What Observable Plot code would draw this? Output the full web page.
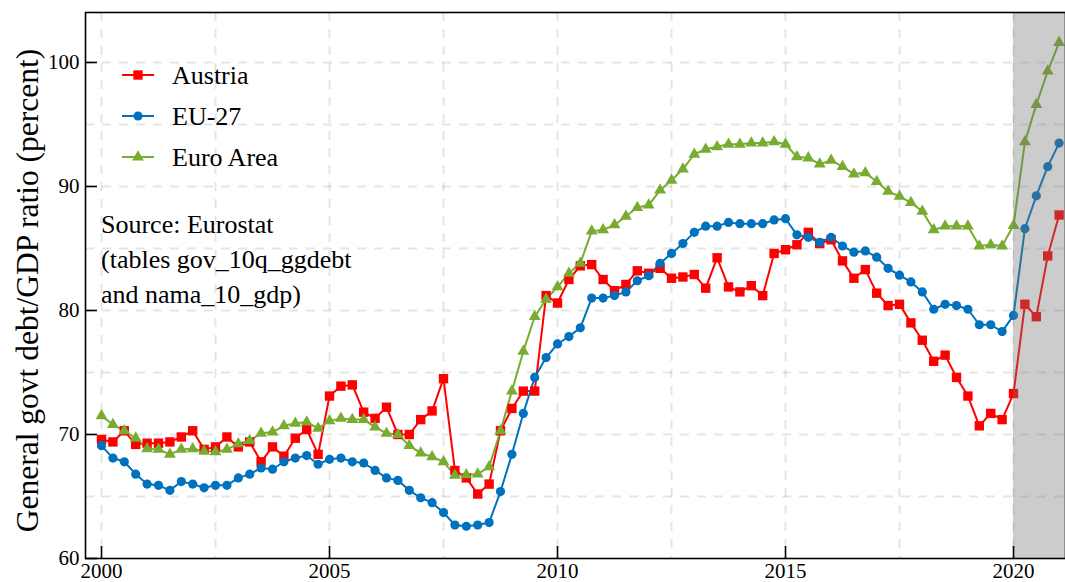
<!DOCTYPE html>
<html>
<head>
<meta charset="utf-8">
<script src="https://cdn.jsdelivr.net/npm/d3@7"></script>
<script src="https://cdn.jsdelivr.net/npm/@observablehq/plot@0.6"></script>
<style>
  html, body { margin: 0; padding: 0; background: #fff; }
  #chart svg { display: block; }
  #chart svg text { font-family: 'Liberation Serif', 'Times New Roman', serif; }
</style>
</head>
<body>
<div id="chart"></div>
<script>
// ---------- data (quarterly, 2000Q1 .. 2021Q1) ----------
const startYear = 2000;
const seriesNames = ["Austria", "EU-27", "Euro Area"];
const seriesColors = ["#ff0000", "#0072bd", "#77ac30"];

const austria = [
  69.6, 69.4, 70.3, 69.2,
  69.3, 69.3, 69.4, 69.8,
  70.3, 68.8, 69.0, 69.8,
  69.0, 69.4, 67.8, 69.0,
  68.25, 69.7, 70.4, 68.4,
  73.1, 73.9, 74.0, 71.8,
  71.3, 72.2, 70.0, 70.0,
  71.2, 71.9, 74.5, 67.1,
  66.5, 65.2, 66.0, 70.3,
  72.1, 73.5, 73.5, 81.2,
  80.6, 82.5, 83.6, 83.7,
  82.5, 81.6, 82.1, 83.2,
  83.0, 83.4, 82.6, 82.7,
  82.9, 81.8, 84.25, 81.9,
  81.5, 82.0, 81.2, 84.6,
  84.9, 85.3, 86.3, 85.4,
  85.7, 84.0, 82.6, 83.3,
  81.4, 80.4, 80.5, 79.0,
  77.6, 75.9, 76.4, 74.6,
  73.1, 70.7, 71.7, 71.2,
  73.3, 80.5, 79.5, 84.4,
  87.7
];

const eu27 = [
  69.1, 68.1, 67.8, 66.8,
  66.0, 65.9, 65.5, 66.2,
  66.0, 65.7, 65.9, 65.9,
  66.5, 66.8, 67.3, 67.2,
  67.8, 68.1, 68.3, 67.6,
  68.0, 68.1, 67.8, 67.7,
  67.1, 66.5, 66.3, 65.5,
  64.9, 64.5, 63.7, 62.7,
  62.6, 62.7, 62.9, 65.4,
  68.4, 71.7, 74.6, 76.2,
  77.3, 77.9, 78.6, 81.0,
  81.0, 81.2, 81.5, 82.4,
  82.8, 83.8, 84.6, 85.4,
  86.3, 86.8, 86.8, 87.1,
  87.0, 87.0, 87.0, 87.3,
  87.4, 86.1, 85.9, 85.5,
  85.9, 85.2, 84.7, 84.8,
  84.3, 83.4, 82.85, 82.3,
  81.5, 80.1, 80.5, 80.4,
  80.1, 78.85, 78.85, 78.3,
  79.6, 86.6, 89.25, 91.6,
  93.5
];

const euroArea = [
  71.5, 70.8, 70.3, 69.7,
  68.85, 68.8, 68.4, 68.8,
  68.85, 68.65, 68.6, 68.8,
  69.25, 69.5, 70.1, 70.2,
  70.7, 70.9, 71.0, 70.5,
  71.1, 71.3, 71.2, 71.2,
  70.6, 70.1, 70.0, 69.1,
  68.5, 68.2, 67.8, 66.7,
  66.75, 66.8, 67.4, 70.3,
  73.5, 76.7, 79.5, 80.9,
  81.9, 83.0, 83.8, 86.4,
  86.5, 86.9, 87.6, 88.3,
  88.5, 89.7, 90.5, 91.4,
  92.6, 93.0, 93.2, 93.4,
  93.4, 93.5, 93.5, 93.6,
  93.4, 92.4, 92.3, 91.8,
  92.1, 91.6, 91.0, 91.1,
  90.4, 89.6, 89.2, 88.7,
  88.0, 86.5, 86.8, 86.8,
  86.8, 85.2, 85.3, 85.2,
  86.85, 93.6, 96.6, 99.3,
  101.6
];

const xTicks = [2000, 2005, 2010, 2015, 2020];
const xGrid = [2000, 2002.5, 2005, 2007.5, 2010, 2012.5, 2015, 2017.5, 2020];
const yTicks = [60, 70, 80, 90, 100];
const yGrid = [65, 70, 75, 80, 85, 90, 95, 100];
const shadeStart = [2020];
const yTitle = "General govt debt/GDP ratio (percent)";
const sourceLines = ["Source: Eurostat", "(tables gov_10q_ggdebt", "and nama_10_gdp)"];

// ---------- build rows ----------
const toRows = (vals, name) => vals.map((v, i) => ({t: startYear + i / 4, v, series: name}));
const rowsA = toRows(austria, seriesNames[0]);
const rowsE = toRows(eu27, seriesNames[1]);
const rowsZ = toRows(euroArea, seriesNames[2]);
const allRows = [...rowsA, ...rowsE, ...rowsZ];

const xDomain = [1999.649, 2021.14];
const yDomain = [60, 104.03];
const FONT = "'Liberation Serif', 'Times New Roman', serif";
const gridStyle = {stroke: "#000", strokeOpacity: 0.1, strokeWidth: 2, strokeDasharray: "9,8"};

const chart = Plot.plot({
  width: 1065,
  height: 582,
  marginLeft: 85,
  marginRight: 0,
  marginTop: 12,
  marginBottom: 24,
  x: {domain: xDomain},
  y: {domain: yDomain},
  color: {domain: seriesNames, range: seriesColors},
  style: {fontFamily: FONT, background: "#fff", color: "#000", overflow: "visible"},
  marks: [
    Plot.gridX(xGrid, gridStyle),
    Plot.gridY(yGrid, gridStyle),
    Plot.line(allRows, {x: "t", y: "v", z: "series", stroke: "series", strokeWidth: 2}),
    Plot.dot(rowsA, {x: "t", y: "v", symbol: "square", r: 5.3, fill: seriesColors[0], stroke: null}),
    Plot.dot(rowsE, {x: "t", y: "v", symbol: "circle", r: 4.6, fill: seriesColors[1], stroke: null}),
    Plot.dot(rowsZ, {x: "t", y: "v", symbol: "triangle", r: 4.4, fill: seriesColors[2], stroke: null}),
    Plot.rect(shadeStart, {x1: d => d, x2: () => xDomain[1], fill: "#737373", fillOpacity: 0.365}),
    Plot.frame({stroke: "#000", strokeWidth: 1.6}),
    Plot.axisX(xTicks, {tickSize: -12, tickPadding: 17, fontSize: 21, tickFormat: d3.format("d"), label: null, strokeWidth: 1.6}),
    Plot.axisY(yTicks, {tickSize: -12, tickPadding: 18, fontSize: 21, tickFormat: d3.format("d"), label: null, strokeWidth: 1.6}),
    Plot.text([yTitle], {frameAnchor: "left", textAnchor: "middle", lineAnchor: "middle", rotate: -90, dx: -58, dy: 5, fontSize: 31.5, fill: "#000"})
  ]
});

document.getElementById("chart").appendChild(chart);

// ---------- legend and source note (inside the plot area) ----------
const svg = d3.select(chart);
const leg = svg.append("g")
  .attr("font-family", FONT)
  .attr("font-size", 26)
  .attr("text-anchor", "start");
const symbols = [d3.symbolSquare, d3.symbolCircle, d3.symbolTriangle];
const symSizes = [Math.PI * 5.3 * 5.3, Math.PI * 4.6 * 4.6, Math.PI * 4.4 * 4.4];
seriesNames.forEach((name, i) => {
  const cy = 75 + i * 41;
  leg.append("line").attr("x1", 122).attr("x2", 154).attr("y1", cy).attr("y2", cy)
    .attr("stroke", seriesColors[i]).attr("stroke-width", 2);
  leg.append("path").attr("d", d3.symbol(symbols[i], symSizes[i])())
    .attr("transform", `translate(138,${cy})`).attr("fill", seriesColors[i]);
  leg.append("text").attr("x", 172).attr("y", cy + 9).attr("fill", "#000")
    .attr("text-anchor", "start").text(name);
});
sourceLines.forEach((line, i) => {
  leg.append("text").attr("x", 101).attr("y", 233 + i * 35).attr("fill", "#000")
    .attr("text-anchor", "start").text(line);
});
</script>
</body>
</html>
